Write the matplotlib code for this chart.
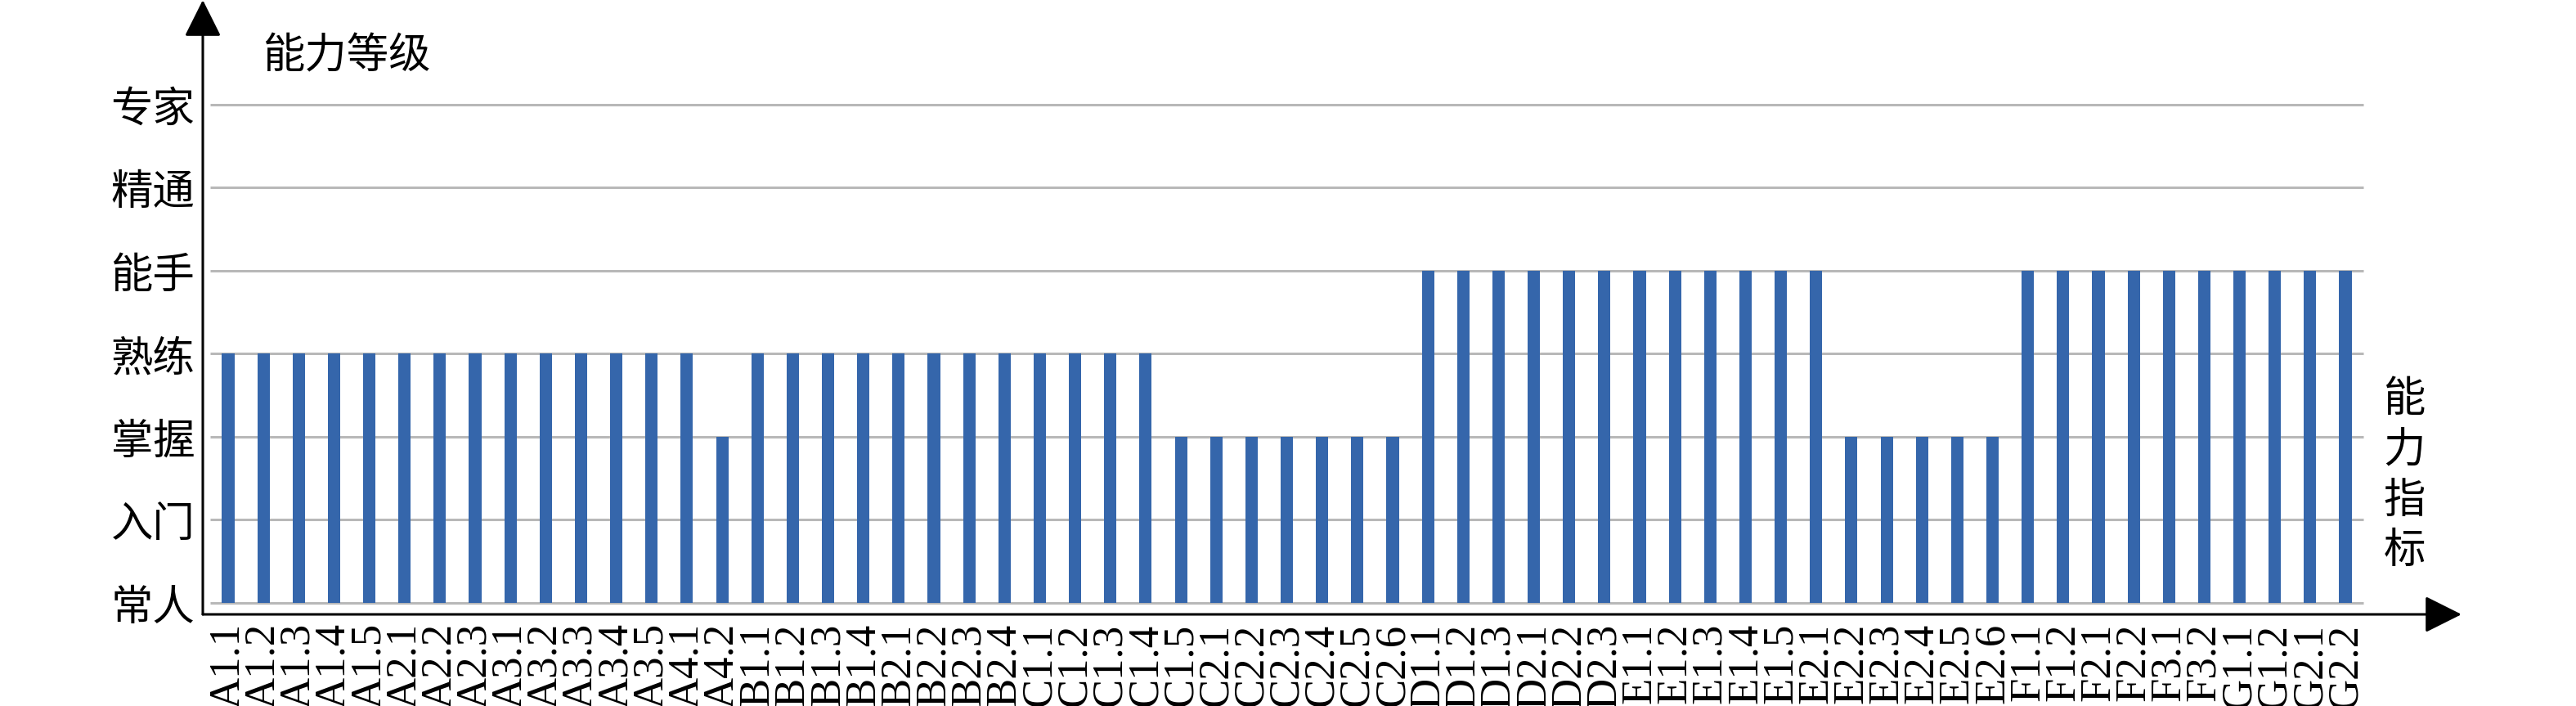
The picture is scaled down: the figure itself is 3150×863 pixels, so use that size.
import matplotlib
matplotlib.use('Agg')
import matplotlib.pyplot as plt

plt.rcParams['font.family'] = ['Noto Sans CJK SC', 'DejaVu Sans']

# 能力等级
levels = ['常人', '入门', '掌握', '熟练', '能手', '精通', '专家']

# 能力指标
indicators = ['A1.1', 'A1.2', 'A1.3', 'A1.4', 'A1.5', 'A2.1', 'A2.2', 'A2.3',
              'A3.1', 'A3.2', 'A3.3', 'A3.4', 'A3.5', 'A4.1', 'A4.2',
              'B1.1', 'B1.2', 'B1.3', 'B1.4', 'B2.1', 'B2.2', 'B2.3', 'B2.4',
              'C1.1', 'C1.2', 'C1.3', 'C1.4', 'C1.5',
              'C2.1', 'C2.2', 'C2.3', 'C2.4', 'C2.5', 'C2.6',
              'D1.1', 'D1.2', 'D1.3', 'D2.1', 'D2.2', 'D2.3',
              'E1.1', 'E1.2', 'E1.3', 'E1.4', 'E1.5',
              'E2.1', 'E2.2', 'E2.3', 'E2.4', 'E2.5', 'E2.6',
              'F1.1', 'F1.2', 'F2.1', 'F2.2', 'F3.1', 'F3.2',
              'G1.1', 'G1.2', 'G2.1', 'G2.2']

# 每个指标对应的等级 (0=常人 ... 6=专家)
scores = [3, 3, 3, 3, 3, 3, 3, 3, 3, 3, 3, 3, 3, 3, 2,
          3, 3, 3, 3, 3, 3, 3, 3,
          3, 3, 3, 3, 2,
          2, 2, 2, 2, 2, 2,
          4, 4, 4, 4, 4, 4,
          4, 4, 4, 4, 4,
          4, 2, 2, 2, 2, 2,
          4, 4, 4, 4, 4, 4,
          4, 4, 4, 4]

W, H = 3150, 863
fig = plt.figure(figsize=(W / 100, H / 100), dpi=100)
# 坐标轴区域：左边界=纵轴，底边=横轴，右/上边界=箭头尖
ax = fig.add_axes([248 / W, (H - 751) / H, (3010 - 248) / W, 751 / H])

x = list(range(len(indicators)))
ax.hlines(range(len(levels)), -0.5, len(indicators) - 0.5,
          colors='#b8b8b8', linewidth=2.2, zorder=1)
ax.bar(x, scores, width=0.35, color='#3566ab', zorder=2)

ax.set_xlim(-0.718, 63.29)
ax.set_ylim(-0.138, 7.261)

for s in ax.spines.values():
    s.set_visible(False)

ax.set_yticks(range(len(levels)), levels, fontsize=37, fontweight='light')
ax.set_xticks(x, indicators, rotation=90, fontsize=38,
              fontfamily='Liberation Serif')
ax.tick_params(axis='both', length=0)
ax.tick_params(axis='y', pad=7)
ax.tick_params(axis='x', pad=8)

# 带箭头的坐标轴
arrow = dict(arrowstyle='-|>', mutation_scale=70, lw=2.2, color='black',
             shrinkA=0, shrinkB=0)
ax.annotate('', xy=(0, 1), xytext=(0, 0), xycoords='axes fraction',
            textcoords='axes fraction', arrowprops=arrow)
ax.annotate('', xy=(1, 0), xytext=(0, 0), xycoords='axes fraction',
            textcoords='axes fraction', arrowprops=arrow)

fig.text(321 / W, 1 - 69 / H, '能力等级', fontsize=37, fontweight='light',
         ha='left', va='center')
fig.text(2940 / W, 1 - 581 / H, '能\n力\n指\n标', fontsize=37,
         fontweight='light', ha='center', va='center', linespacing=1.2)

fig.savefig('out.png', dpi=100)
plt.close(fig)
